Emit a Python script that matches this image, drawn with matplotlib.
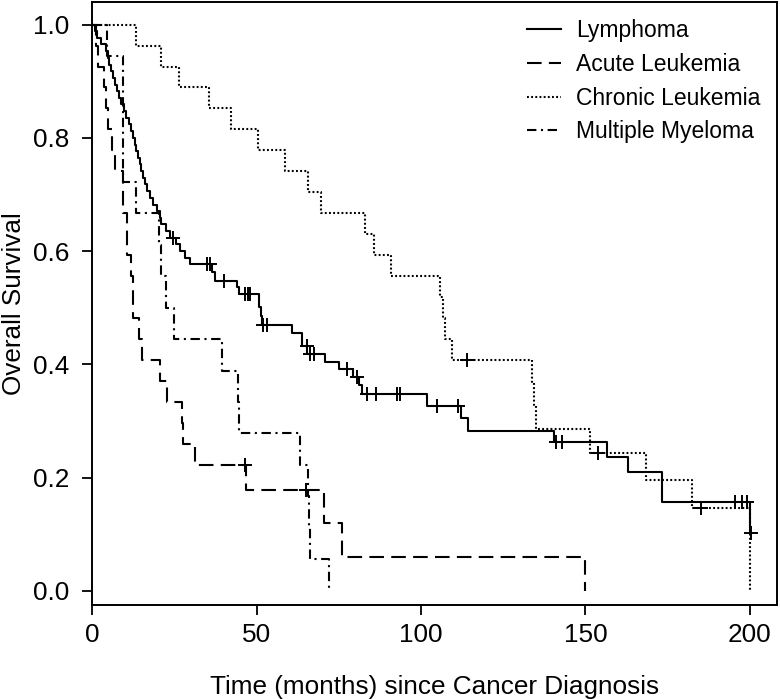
import numpy as np
import matplotlib
matplotlib.use("Agg")
import matplotlib.pyplot as plt

plt.rcParams["font.family"] = ["Liberation Sans", "DejaVu Sans"]

# Kaplan-Meier steps (months, survival)
lymph_t = [0, 0.8, 1.6, 2.6, 4.2, 4.8, 5.3, 5.9, 6.4, 7.0, 7.5, 8.1, 8.8, 9.6,
           10.4, 11.2, 11.9, 12.5, 13.0, 13.5, 14.0, 14.5, 15.0, 15.6, 16.1,
           16.7, 17.5, 18.4, 19.6, 20.6, 21.1, 22.6, 23.6, 25.6, 26.6, 28.2,
           29.7, 36.5, 37.5, 44.2, 44.8, 50.9, 51.3, 51.7, 60.7, 63.8, 65.5,
           70.9, 75.0, 79.4, 81.3, 82.0, 101.8, 112.2, 114.3, 140.5, 156.5,
           163.0, 173.3, 200.0]
lymph_s = [1.0, 0.988, 0.976, 0.965, 0.953, 0.941, 0.929, 0.918, 0.906, 0.894,
           0.882, 0.871, 0.859, 0.847, 0.835, 0.824, 0.812, 0.800, 0.788, 0.776,
           0.765, 0.753, 0.741, 0.729, 0.718, 0.706, 0.694, 0.682, 0.671, 0.659,
           0.647, 0.635, 0.624, 0.612, 0.600, 0.588, 0.577, 0.563, 0.547, 0.536,
           0.525, 0.502, 0.485, 0.469, 0.456, 0.432, 0.419, 0.405, 0.392, 0.378,
           0.364, 0.348, 0.327, 0.306, 0.283, 0.263, 0.237, 0.210, 0.157, 0.103]
lymph_end = 200.4
lymph_cens = [24.6, 34.8, 35.9, 40.2, 46.5, 47.5, 48.0, 52.1, 53.3, 65.2, 66.3,
              67.4, 77.5, 80.6, 83.5, 86.3, 92.8, 93.6, 105.0, 111.2, 141.0,
              143.0, 195.4, 197.5, 199.0, 200.3]

acute_t = [0, 1.2, 1.8, 3.5, 4.3, 4.9, 6.0, 6.9, 9.4, 9.5, 10.6, 10.7, 11.8,
           12.5, 12.6, 14.3, 15.3, 20.7, 22.7, 27.3, 27.7, 31.4, 46.8, 70.4,
           76.1, 150.0]
acute_s = [1.0, 0.963, 0.926, 0.889, 0.852, 0.815, 0.778, 0.741, 0.704, 0.667,
           0.630, 0.593, 0.556, 0.519, 0.481, 0.444, 0.407, 0.370, 0.333, 0.296,
           0.259, 0.222, 0.178, 0.119, 0.059, 0.0]
acute_end = 150.0
acute_cens = [46.4, 65.0]

chron_t = [0, 13.5, 21.0, 26.5, 35.5, 42.3, 50.5, 58.8, 65.7, 69.7, 83.0, 85.7,
           90.9, 105.8, 106.8, 107.3, 109.3, 133.7, 134.3, 134.9, 151.4, 168.4,
           182.4, 200.0]
chron_s = [1.0, 0.963, 0.926, 0.889, 0.852, 0.815, 0.778, 0.741, 0.704, 0.667,
           0.630, 0.593, 0.556, 0.519, 0.481, 0.444, 0.407, 0.367, 0.326, 0.285,
           0.244, 0.195, 0.147, 0.0]
chron_end = 200.0
chron_cens = [114.0, 153.7, 185.1]

myel_t = [0, 4.5, 9.4, 13.5, 20.5, 21.0, 22.5, 25.0, 39.4, 44.4, 44.7, 63.2,
          65.8, 65.9, 66.4, 72.0]
myel_s = [1.0, 0.944, 0.722, 0.667, 0.611, 0.556, 0.5, 0.444, 0.389, 0.333,
          0.278, 0.222, 0.167, 0.111, 0.056, 0.0]
myel_end = 72.0
myel_cens = []

groups = ["Lymphoma", "Acute Leukemia", "Chronic Leukemia", "Multiple Myeloma"]
series = [
    (lymph_t, lymph_s, lymph_end, lymph_cens),
    (acute_t, acute_s, acute_end, acute_cens),
    (chron_t, chron_s, chron_end, chron_cens),
    (myel_t, myel_s, myel_end, myel_cens),
]
styles = ["-", (0, (7, 3.5)), (0, (0.9, 1.1)), (0, (4.5, 2.2, 1.0, 2.2))]

fig = plt.figure(figsize=(7.8, 6.99), dpi=100)
ax = fig.add_axes([0.118, 0.1345, 0.878, 0.8627])

for name, (t, s, end, cens), ls in zip(groups, series, styles):
    tt = list(t) + [end]
    ss = list(s) + [s[-1]]
    ax.step(tt, ss, where="post", color="black", lw=1.5, ls=ls, label=name)
    if cens:
        idx = np.searchsorted(t, cens, side="right") - 1
        ax.plot(cens, np.asarray(s)[idx], ls="none", marker="+", ms=10,
                mew=1.4, color="black")

ax.set_xlim(0, 208.2)
ax.set_ylim(-0.025, 1.04)
ax.set_xticks([0, 50, 100, 150, 200])
ax.set_yticks([0.0, 0.2, 0.4, 0.6, 0.8, 1.0])
ax.set_yticklabels(["0.0", "0.2", "0.4", "0.6", "0.8", "1.0"])
ax.tick_params(direction="out", length=7, width=1.3, labelsize=18.8)
ax.tick_params(axis="x", pad=6)
ax.tick_params(axis="y", pad=9.5)
for sp in ax.spines.values():
    sp.set_linewidth(1.4)

ax.set_xlabel("Time (months) since Cancer Diagnosis", fontsize=18.8, labelpad=20)
ax.set_ylabel("Overall Survival", fontsize=18.8)
ax.yaxis.set_label_coords(-0.097, 0.5)

leg = ax.legend(loc="upper left", bbox_to_anchor=(527 / 780, 1 - 19 / 699),
                bbox_transform=fig.transFigure, frameon=False, fontsize=16.5,
                handlelength=1.5, handletextpad=0.65, labelspacing=0.47,
                borderpad=0, borderaxespad=0)

fig.savefig("out.png", dpi=100)
